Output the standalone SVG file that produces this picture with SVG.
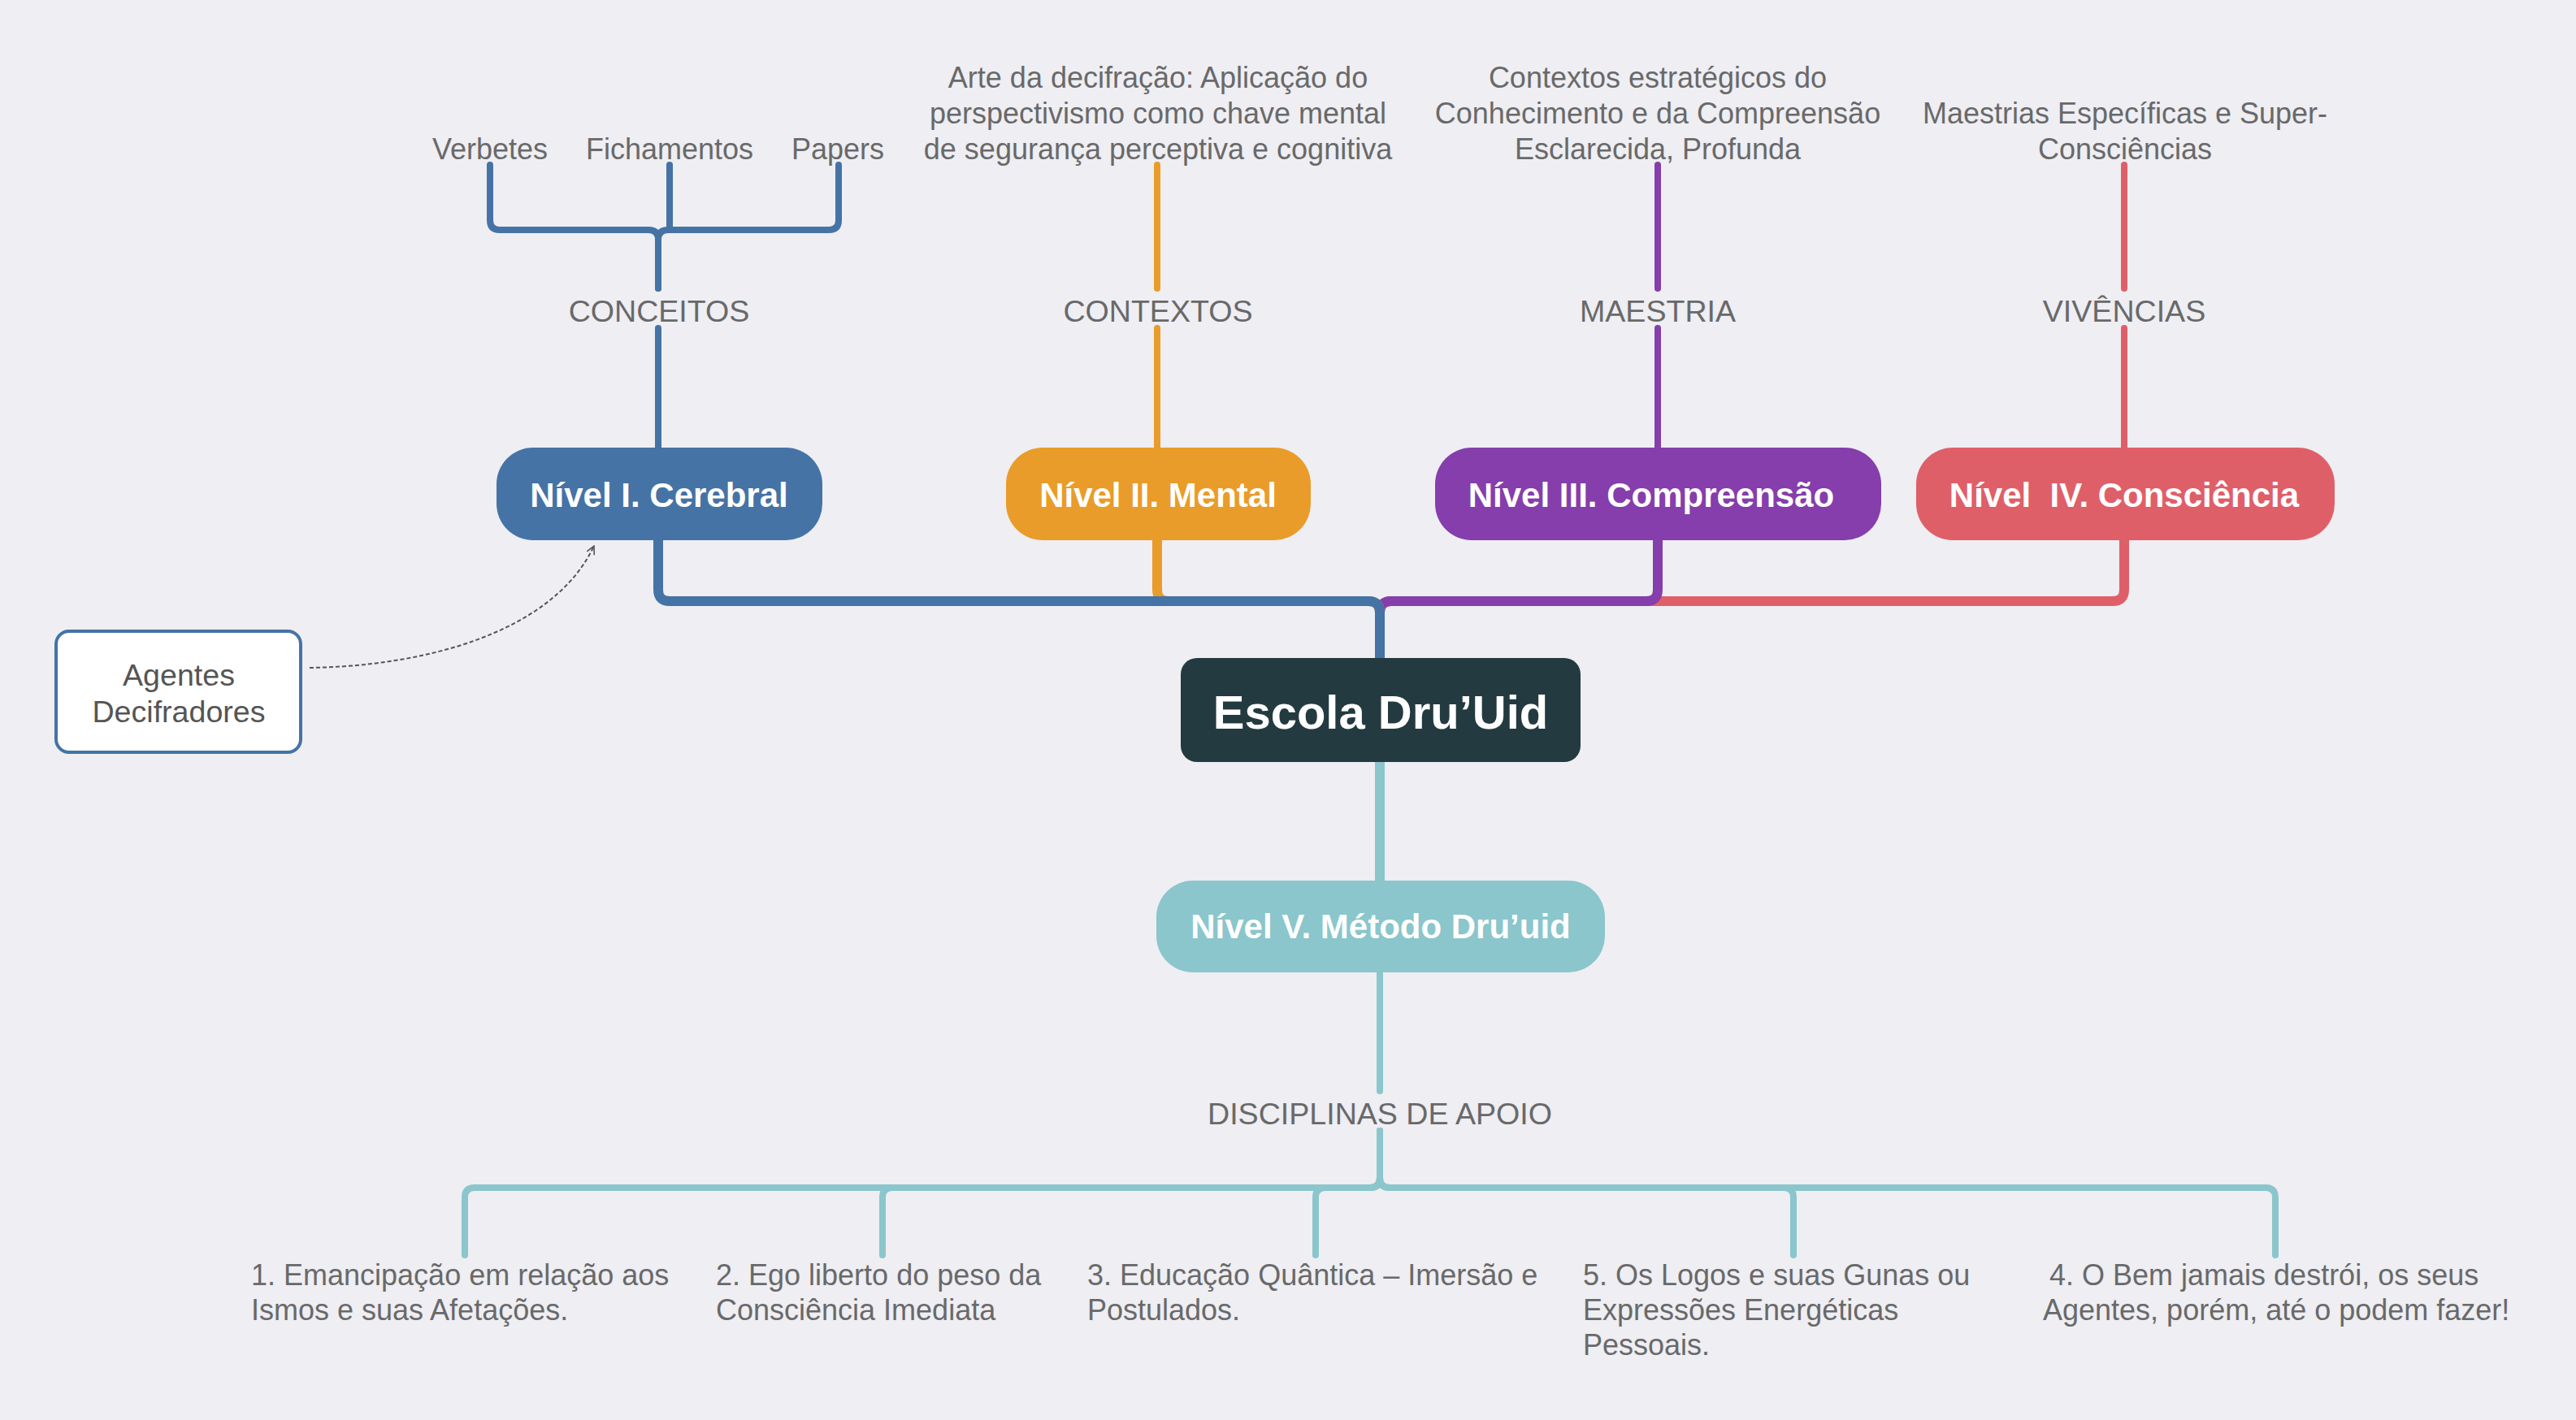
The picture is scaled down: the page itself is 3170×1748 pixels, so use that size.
<svg xmlns="http://www.w3.org/2000/svg" width="3170" height="1748" viewBox="0 0 3170 1748">
<defs>
<style>
.bg{fill:#EEEEF3}
.lbl{font-family:"Liberation Sans",Arial,sans-serif;font-size:36px;fill:#696969}
.cap{font-size:37.6px}
.mid{text-anchor:middle}
.nt{font-family:"Liberation Sans",Arial,sans-serif;font-size:42px;font-weight:bold;fill:#ffffff;text-anchor:middle}
.ln{fill:none;stroke-linecap:round;stroke-linejoin:round}
.main{stroke-width:12}
.sub{stroke-width:8}
.blue{stroke:#4573A5}
.orange{stroke:#E99C29}
.purple{stroke:#853EAB}
.red{stroke:#DF5F69}
.teal{stroke:#8AC6CC}
</style>
<marker id="open" viewBox="0 0 12 12" refX="11" refY="6" markerWidth="12" markerHeight="12" markerUnits="userSpaceOnUse" orient="auto">
<path d="M1,1 L11,6 L1,11" fill="none" stroke="#555555" stroke-width="1.6"/>
</marker>
</defs>
<rect class="bg" x="0" y="0" width="3170" height="1748"/>

<g id="connectors">
<path class="ln main red" d="M1698,810 V754 Q1698,740 1712,740 H2600 Q2614,740 2614,726 V665"/>
<path class="ln main purple" d="M1698,810 V754 Q1698,740 1712,740 H2026 Q2040,740 2040,726 V665"/>
<path class="ln main orange" d="M1698,810 V754 Q1698,740 1684,740 H1438 Q1424,740 1424,726 V665"/>
<path class="ln main blue" d="M1698,810 V754 Q1698,740 1684,740 H824 Q810,740 810,726 V665"/>
<path class="ln main teal" d="M1698,938 V1084"/>
<path class="ln sub blue" d="M810,551 V404"/>
<path class="ln sub orange" d="M1424,551 V404"/>
<path class="ln sub purple" d="M2040,551 V404"/>
<path class="ln sub red" d="M2614,551 V404"/>
<path class="ln sub teal" d="M1698,1197 V1343"/>
<path class="ln sub blue" d="M810,355 V295 Q810,283 798,283 H615 Q603,283 603,271 V203"/>
<path class="ln sub blue" d="M810,355 V295 Q810,283 822,283 H1020 Q1032,283 1032,271 V203"/>
<path class="ln sub blue" d="M824,283 V203"/>
<path class="ln sub orange" d="M1424,355 V203"/>
<path class="ln sub purple" d="M2040,355 V203"/>
<path class="ln sub red" d="M2614,355 V203"/>
<path class="ln sub teal" d="M1698,1392 V1450 Q1698,1462 1686,1462 H584 Q572,1462 572,1474 V1545"/>
<path class="ln sub teal" d="M1698,1392 V1450 Q1698,1462 1686,1462 H1098 Q1086,1462 1086,1474 V1545"/>
<path class="ln sub teal" d="M1698,1392 V1450 Q1698,1462 1686,1462 H1631 Q1619,1462 1619,1474 V1545"/>
<path class="ln sub teal" d="M1698,1392 V1450 Q1698,1462 1710,1462 H2195 Q2207,1462 2207,1474 V1545"/>
<path class="ln sub teal" d="M1698,1392 V1450 Q1698,1462 1710,1462 H2788 Q2800,1462 2800,1474 V1545"/>
<path d="M381,822 C520,820 680,780 731,672" fill="none" stroke="#555555" stroke-width="2" stroke-dasharray="5 3" marker-end="url(#open)"/>
</g>

<g id="root">
<rect x="1453" y="810" width="492" height="128" rx="20" fill="#233A40"/>
<text class="nt" x="1699" y="897" style="font-size:58px">Escola Dru’Uid</text>
</g>

<g id="nivel1">
<rect x="611" y="551" width="401" height="114" rx="45" fill="#4573A5"/>
<text class="nt" x="811" y="624">Nível I. Cerebral</text>
</g>
<g id="nivel2">
<rect x="1238" y="551" width="375" height="114" rx="45" fill="#E99C29"/>
<text class="nt" x="1425" y="624">Nível II. Mental</text>
</g>
<g id="nivel3">
<rect x="1766" y="551" width="549" height="114" rx="45" fill="#853EAB"/>
<text class="nt" x="2032" y="624">Nível III. Compreensão</text>
</g>
<g id="nivel4">
<rect x="2358" y="551" width="515" height="114" rx="45" fill="#DF5F69"/>
<text class="nt" x="2614" y="624" xml:space="preserve">Nível  IV. Consciência</text>
</g>
<g id="nivel5">
<rect x="1423" y="1084" width="552" height="113" rx="45" fill="#8AC6CC"/>
<text class="nt" x="1699" y="1155">Nível V. Método Dru’uid</text>
</g>

<g id="conceitos"><text class="lbl cap mid" x="811" y="396">CONCEITOS</text></g>
<g id="contextos"><text class="lbl cap mid" x="1425" y="396">CONTEXTOS</text></g>
<g id="maestria"><text class="lbl cap mid" x="2040" y="396">MAESTRIA</text></g>
<g id="vivencias"><text class="lbl cap mid" x="2614" y="396">VIVÊNCIAS</text></g>
<g id="disciplinas"><text class="lbl cap mid" x="1698" y="1384">DISCIPLINAS DE APOIO</text></g>

<g id="verbetes"><text class="lbl mid" x="603" y="196">Verbetes</text></g>
<g id="fichamentos"><text class="lbl mid" x="824" y="196">Fichamentos</text></g>
<g id="papers"><text class="lbl mid" x="1031" y="196">Papers</text></g>

<g id="arte">
<text class="lbl mid" x="1425" y="108">Arte da decifração: Aplicação do</text>
<text class="lbl mid" x="1425" y="152">perspectivismo como chave mental</text>
<text class="lbl mid" x="1425" y="196">de segurança perceptiva e cognitiva</text>
</g>
<g id="contextos-estrategicos">
<text class="lbl mid" x="2040" y="108">Contextos estratégicos do</text>
<text class="lbl mid" x="2040" y="152">Conhecimento e da Compreensão</text>
<text class="lbl mid" x="2040" y="196">Esclarecida, Profunda</text>
</g>
<g id="maestrias">
<text class="lbl mid" x="2615" y="152">Maestrias Específicas e Super-</text>
<text class="lbl mid" x="2615" y="196">Consciências</text>
</g>

<g id="agentes">
<rect x="69" y="777" width="301" height="149" rx="16" fill="#ffffff" stroke="#4573A5" stroke-width="4"/>
<text class="lbl cap mid" x="220" y="844" style="fill:#555555">Agentes</text>
<text class="lbl cap mid" x="220" y="889" style="fill:#555555">Decifradores</text>
</g>

<g id="disc1">
<text class="lbl" x="309" y="1582">1. Emancipação em relação aos</text>
<text class="lbl" x="309" y="1625">Ismos e suas Afetações.</text>
</g>
<g id="disc2">
<text class="lbl" x="881" y="1582">2. Ego liberto do peso da</text>
<text class="lbl" x="881" y="1625">Consciência Imediata</text>
</g>
<g id="disc3">
<text class="lbl" x="1338" y="1582">3. Educação Quântica – Imersão e</text>
<text class="lbl" x="1338" y="1625">Postulados.</text>
</g>
<g id="disc5">
<text class="lbl" x="1948" y="1582">5. Os Logos e suas Gunas ou</text>
<text class="lbl" x="1948" y="1625">Expressões Energéticas</text>
<text class="lbl" x="1948" y="1668">Pessoais.</text>
</g>
<g id="disc4">
<text class="lbl" x="2522" y="1582">4. O Bem jamais destrói, os seus</text>
<text class="lbl" x="2514" y="1625">Agentes, porém, até o podem fazer!</text>
</g>
</svg>
